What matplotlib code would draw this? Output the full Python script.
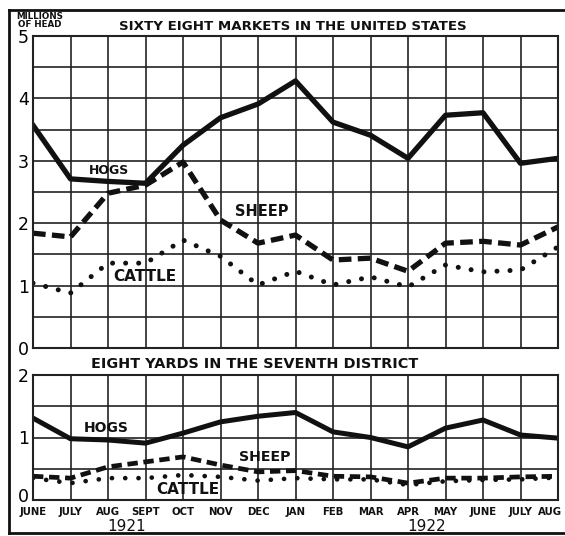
import matplotlib.pyplot as plt
import matplotlib.transforms as mtransforms
from matplotlib.lines import Line2D

# mesi (giugno 1921 - agosto 1922)
mesi = ["JUNE", "JULY", "AUG", "SEPT", "OCT", "NOV", "DEC", "JAN",
        "FEB", "MAR", "APR", "MAY", "JUNE", "JULY", "AUG"]

# sessantotto mercati negli Stati Uniti (milioni di capi)
hogs_us = [3.57, 2.71, 2.67, 2.64, 3.25, 3.69, 3.91, 4.28,
           3.62, 3.41, 3.04, 3.73, 3.77, 2.96, 3.04]
sheep_us = [1.84, 1.78, 2.48, 2.61, 2.98, 2.05, 1.68, 1.81,
            1.41, 1.44, 1.23, 1.68, 1.71, 1.65, 1.94]
cattle_us = [1.04, 0.88, 1.36, 1.36, 1.73, 1.47, 1.01, 1.23,
             1.01, 1.14, 0.98, 1.33, 1.22, 1.25, 1.62]

# otto mercati del settimo distretto
hogs_d7 = [1.31, 0.98, 0.96, 0.91, 1.07, 1.25, 1.34, 1.40,
           1.09, 1.00, 0.85, 1.15, 1.28, 1.04, 0.99]
sheep_d7 = [0.38, 0.35, 0.53, 0.61, 0.69, 0.56, 0.45, 0.47,
            0.38, 0.37, 0.27, 0.35, 0.35, 0.37, 0.38]
cattle_d7 = [0.35, 0.27, 0.35, 0.35, 0.40, 0.37, 0.31, 0.35,
             0.33, 0.33, 0.24, 0.30, 0.32, 0.33, 0.36]

W, H = 565, 536
fig = plt.figure(figsize=(W / 100, H / 100), dpi=100)
plt.rcParams['font.family'] = ['DejaVu Sans']


def box(x0, y0, x1, y1):
    # converte pixel -> coordinate figura
    return [x0 / W, 1 - y1 / H, (x1 - x0) / W, (y1 - y0) / H]


ax1 = fig.add_axes(box(33, 36, 558, 348))
ax2 = fig.add_axes(box(33, 375, 558, 500))

x = range(len(mesi))


def prepara(ax, ymax):
    ax.set_xlim(0, len(mesi) - 1)
    ax.set_ylim(0, ymax)
    ax.set_xticks(x)
    ax.set_yticks(range(ymax + 1))
    ax.set_yticks([i + 0.5 for i in range(ymax)], minor=True)
    ax.grid(True, which="both", color="#222222", lw=1.2)
    ax.set_axisbelow(True)
    ax.tick_params(length=0, labelbottom=False, labelsize=12.5, pad=3)
    ax.tick_params(which="minor", length=0)
    for s in ax.spines.values():
        s.set_linewidth(1.5)
        s.set_color("#222222")


prepara(ax1, 5)
prepara(ax2, 2)

# lo "0" in basso leggermente alzato per non toccare i mesi
fig.canvas.draw()
zero = ax2.get_yticklabels()[0]
zero.set_transform(zero.get_transform() +
                   mtransforms.ScaledTranslation(0, 5 / 100, fig.dpi_scale_trans))

ax1.plot(x, hogs_us, color="#111111", lw=3.8)
ax1.plot(x, sheep_us, color="#111111", lw=3.8, linestyle=(0, (2.4, 1.2)))
ax1.plot(x, cattle_us, color="#111111", lw=3.6, linestyle=(0, (0.01, 2.6)),
         dash_capstyle="round")

ax2.plot(x, hogs_d7, color="#111111", lw=3.6)
ax2.plot(x, sheep_d7, color="#111111", lw=3.4, linestyle=(0, (2.2, 1.2)))
ax2.plot(x, cattle_d7, color="#111111", lw=3.4, linestyle=(0, (0.01, 2.8)),
         dash_capstyle="round")

font = dict(fontweight="bold", color="#111111", ha="center", va="center")
ax1.text(2.03, 2.84, "HOGS", fontsize=9, **font)
ax1.text(6.1, 2.18, "SHEEP", fontsize=10.5, **font)
ax1.text(2.99, 1.15, "CATTLE", fontsize=11, **font)
ax2.text(1.95, 1.15, "HOGS", fontsize=10, **font)
ax2.text(6.19, 0.69, "SHEEP", fontsize=10.2, **font)
ax2.text(4.14, 0.16, "CATTLE", fontsize=11, **font)

# titoli
fig.text(293 / W, 1 - 27 / H, "SIXTY EIGHT MARKETS IN THE UNITED STATES",
         fontsize=9.6, **font)
fig.text(255 / W, 1 - 364 / H, "EIGHT YARDS IN THE SEVENTH DISTRICT",
         fontsize=10.4, **font)
fig.text(40 / W, 1 - 20.5 / H, "MILLIONS\nOF HEAD", fontsize=6.3,
         linespacing=0.85, **font)

# mesi e anni
for i, m in enumerate(mesi):
    if i == len(mesi) - 1:
        ax2.text(14.12, -0.19, m, fontsize=7.3, fontweight="bold",
                 color="#111111", ha="right", va="center")
    else:
        ax2.text(i, -0.19, m, fontsize=7.3, **font)
ax2.text(2.5, -0.43, "1921", fontsize=11, color="#111111",
         ha="center", va="center")
ax2.text(10.5, -0.43, "1922", fontsize=11, color="#111111",
         ha="center", va="center")

# cornice esterna
for xs, ys in [([9, 9], [10, 533]), ([9, 565], [10, 10]), ([9, 565], [533, 533])]:
    fig.add_artist(Line2D([v / W for v in xs], [1 - v / H for v in ys],
                          color="#111111", lw=2))

fig.savefig("out.png", dpi=100)
